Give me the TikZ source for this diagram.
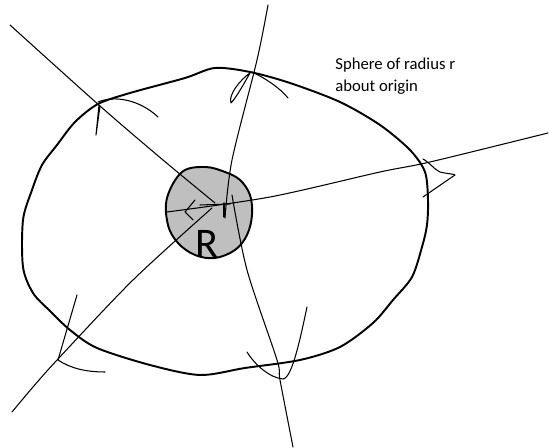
\documentclass[tikz,border=0pt]{standalone}
\usepackage{fontspec}
\newfontfamily\notefont{Carlito}
\begin{document}
\begin{tikzpicture}[
            x=0.02cm,
            y=-0.02cm,
            line cap=round,
            line join=round,
            shell/.style={black, line width=1.1pt},
            ray/.style={black, line width=0.6pt},
            mark stroke/.style={black, line width=0.6pt},
            every node/.style={
                inner sep=0pt
            }
        ]
            \useasboundingbox (0,0) rectangle (549,448);

            % centre of the small ball
            \coordinate (o) at (212,208);

            % sphere of radius r
            \draw[shell] plot[smooth cycle, tension=0.5] coordinates {
                (215,68) (250,72) (290,83) (340,102) (380,125) (410,150)
                (425,172) (428,200) (427,225) (422,247) (412,277) (393,300)
                (373,323) (340,347) (300,360) (245,368) (200,375) (150,365)
                (97,348) (70,330) (50,311) (33,293) (23,267) (23,220)
                (32,190) (42,165) (57,145) (75,122) (98,104) (130,93)
                (185,78)};

            % ball about the origin
            \draw[shell, fill=black!25] plot[smooth cycle, tension=0.6] coordinates {
                (182,172) (205,167) (225,172) (240,180) (250,195) (252,215)
                (247,235) (235,250) (215,258) (195,255) (178,243) (168,225)
                (167,198)};

            % rays
            \draw[ray] plot[smooth, tension=0.5] coordinates {(10,25) (100,106) (163,160) (215,203)};
            \draw[ray] plot[smooth, tension=0.5] coordinates {(268,5) (257,60) (232,160) (225,218)};
            \draw[ray] plot[smooth, tension=0.5] coordinates {(548,133) (430,162) (380,172) (270,197) (167,212)};
            \draw[ray] plot[smooth, tension=0.5] coordinates {(12,412) (33,387) (58,359) (133,280) (o)};
            \draw[ray] plot[smooth, tension=0.5] coordinates {(232,195) (247,270) (277,360) (280,380) (293,447)};

            % marks at the centre
            \draw[mark stroke] (195,200) -- (185,212) -- (193,220);
            \draw[mark stroke] (200,205) -- (230,204);
            \draw[mark stroke] (224,203) -- (224,217);

            % marks where the rays leave the sphere
            \draw[mark stroke] (98,102) .. controls (115,95) and (140,100) .. (158,117);
            \draw[mark stroke] (99,105) -- (96,135) -- (100,106);
            \draw[mark stroke] (252,72) .. controls (265,78) and (280,88) .. (288,98);
            \draw[mark stroke] (250,73) .. controls (240,80) and (228,95) .. (231,103)
                .. controls (236,98) and (245,82) .. (250,73);
            \draw[mark stroke] (423,159) .. controls (430,163) and (435,170) .. (440,172)
                .. controls (448,174) and (455,174) .. (455,175) -- (423,197);
            \draw[mark stroke] (77,295) -- (58,360) .. controls (70,368) and (85,372) .. (105,372);
            \draw[mark stroke] (247,352) .. controls (255,365) and (270,378) .. (283,379)
                .. controls (292,378) and (300,340) .. (307,307);

            % labels
            \node[anchor=base west, font=\notefont\fontsize{24}{24}\selectfont] (radius) at (195,258) {R};
            \node[anchor=north west, align=left, font=\notefont\fontsize{9.5}{12.5}\selectfont] (note) at (335,58) {Sphere of radius r\\about origin};
        \end{tikzpicture}
\end{document}
